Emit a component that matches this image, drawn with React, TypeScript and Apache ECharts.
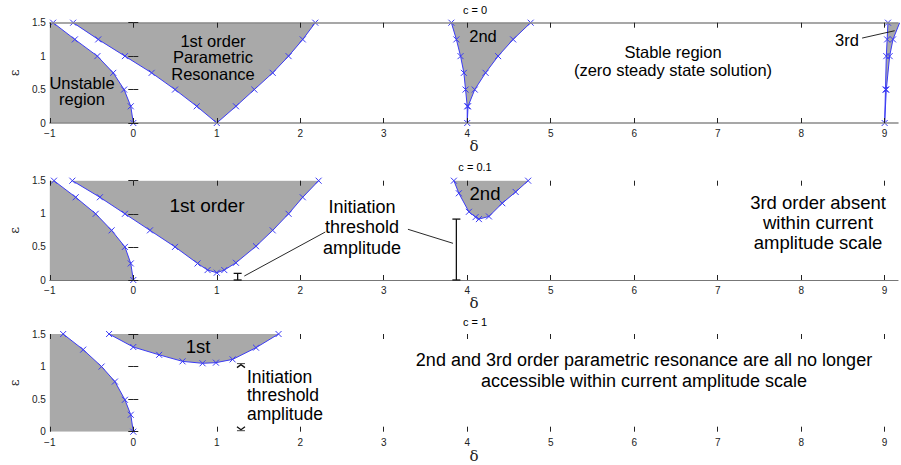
import React, { useEffect, useRef } from "react";
import * as echarts from "echarts";

// ---------- axis ticks ----------
const xTickValues = [-1, 0, 1, 2, 3, 4, 5, 6, 7, 8, 9];
const yTickValues = [0, 0.5, 1, 1.5];
const titles = ["c = 0", "c = 0.1", "c = 1"];

// ---------- c = 0 ----------
const c0Unstable = [[-0.96, 1.5], [-0.7, 1.25], [-0.43, 1.0], [-0.24, 0.75], [-0.11, 0.5], [-0.03, 0.25], [0, 0]];
const c0First = [[-0.72, 1.5], [-0.42, 1.25], [-0.1, 1.0], [0.22, 0.75], [0.5, 0.5], [0.76, 0.25], [1, 0], [1.23, 0.25], [1.45, 0.5], [1.67, 0.75], [1.86, 1.0], [2.03, 1.25], [2.18, 1.5]];
const c0Second = [[3.81, 1.5], [3.87, 1.25], [3.92, 1.0], [3.96, 0.75], [3.98, 0.5], [4.0, 0.25], [4.0, 0], [4.01, 0.25], [4.09, 0.5], [4.22, 0.75], [4.37, 1.0], [4.55, 1.25], [4.76, 1.5]];
const c0Third = [[9.04, 1.5], [9.03, 1.25], [9.02, 1.0], [9.01, 0.5], [9.0, 0], [9.02, 0.5], [9.06, 1.0], [9.1, 1.25], [9.18, 1.5]];
const c0Leader = [[8.73, 1.27], [9.12, 1.38]];

// ---------- c = 0.1 ----------
const c01Unstable = [[-0.95, 1.5], [-0.69, 1.25], [-0.45, 1.0], [-0.26, 0.75], [-0.1, 0.5], [-0.03, 0.25], [0, 0]];
const c01First = [[-0.73, 1.5], [-0.4, 1.25], [-0.1, 1.0], [0.2, 0.75], [0.5, 0.5], [0.77, 0.25], [0.89, 0.15], [1.0, 0.11], [1.09, 0.15], [1.23, 0.26], [1.47, 0.51], [1.67, 0.75], [1.86, 1.0], [2.03, 1.25], [2.22, 1.5]];
const c01Second = [[3.84, 1.5], [3.9, 1.31], [4.02, 1.03], [4.1, 0.95], [4.14, 0.92], [4.26, 0.96], [4.42, 1.16], [4.58, 1.33], [4.73, 1.5]];
const c01Thresholds = [[1.25, 0, 0.1], [3.87, 0, 0.92]];
const c01LeaderA = [[1.33, 0.06], [2.3, 0.725]];
const c01LeaderB = [[3.29, 0.766], [3.83, 0.554]];

// ---------- c = 1 ----------
const c1Unstable = [[-0.84, 1.5], [-0.6, 1.26], [-0.38, 1.0], [-0.22, 0.77], [-0.1, 0.49], [-0.03, 0.26], [0, 0]];
const c1First = [[-0.29, 1.5], [0, 1.3], [0.31, 1.18], [0.59, 1.08], [0.83, 1.05], [0.99, 1.06], [1.19, 1.11], [1.47, 1.29], [1.74, 1.5]];
const c1Threshold = [[1.29, 0.0, 1.03]];

const X_MIN = -1;
const X_MAX = 9.16;
const Y_MAX = 1.5;

const GRAY = "#a9a9a9";
const BLUE = "#3b3bf5";
const FONT = "Liberation Sans, Arial, Helvetica, sans-serif";
const XSYM = "path://M0 0L10 10M10 0L0 10";

function withCorner(curve: number[][]) {
  // the unstable region reaches the left edge of the plot at its top
  return [[X_MIN, Y_MAX], ...curve];
}

function regionSeries(data: number[][], gi: number, origin: "start" | "end", withArea = true) {
  return {
    type: "line",
    xAxisIndex: gi * 2,
    yAxisIndex: gi * 2,
    data,
    symbol: XSYM,
    symbolSize: 6,
    showAllSymbol: true,
    lineStyle: { color: BLUE, width: 1 },
    itemStyle: { color: "none", borderColor: BLUE, borderWidth: 1 },
    areaStyle: withArea ? { color: GRAY, opacity: 1, origin } : undefined,
    z: 2,
    silent: true,
  };
}

function fillOnlySeries(data: number[][], gi: number) {
  return {
    type: "line",
    xAxisIndex: gi * 2,
    yAxisIndex: gi * 2,
    data,
    symbol: "none",
    lineStyle: { width: 0, opacity: 0 },
    areaStyle: { color: GRAY, opacity: 1, origin: "start" },
    z: 1,
    silent: true,
  };
}

function leaderSeries(data: number[][], gi: number) {
  return {
    type: "line",
    xAxisIndex: gi * 2,
    yAxisIndex: gi * 2,
    data,
    symbol: "none",
    lineStyle: { color: "#111", width: 0.9 },
    z: 6,
    silent: true,
  };
}

function errorBarSeries(data: number[][], gi: number, capsOnly: boolean) {
  return {
    type: "custom",
    xAxisIndex: gi * 2,
    yAxisIndex: gi * 2,
    data,
    encode: { x: 0, y: [1, 2] },
    z: 7,
    silent: true,
    renderItem: (_params: any, api: any) => {
      const x = api.value(0);
      const lo = api.coord([x, api.value(1)]);
      const hi = api.coord([x, api.value(2)]);
      const w = 4;
      const st = { stroke: "#111", lineWidth: 1.3, fill: "none" };
      const children: any[] = [];
      if (!capsOnly) {
        children.push({ type: "line", shape: { x1: lo[0], y1: lo[1], x2: hi[0], y2: hi[1] }, style: st });
        children.push({ type: "line", shape: { x1: lo[0] - w, y1: lo[1], x2: lo[0] + w, y2: lo[1] }, style: st });
        children.push({ type: "line", shape: { x1: hi[0] - w, y1: hi[1], x2: hi[0] + w, y2: hi[1] }, style: st });
      } else {
        children.push({ type: "polyline", shape: { points: [[hi[0] - w, hi[1] + 3], [hi[0], hi[1]], [hi[0] + w, hi[1] + 3]] }, style: st });
        children.push({ type: "line", shape: { x1: hi[0] - w, y1: hi[1] - 1, x2: hi[0] + w, y2: hi[1] - 1 }, style: { ...st, lineWidth: 0.8 } });
        children.push({ type: "polyline", shape: { points: [[lo[0] - w, lo[1] - 5], [lo[0], lo[1] - 2], [lo[0] + w, lo[1] - 5]] }, style: st });
        children.push({ type: "line", shape: { x1: lo[0] - w, y1: lo[1] - 1, x2: lo[0] + w, y2: lo[1] - 1 }, style: { ...st, lineWidth: 0.8 } });
      }
      return { type: "group", children };
    },
  };
}

const grids = [
  { left: 47, top: 22.7, width: 851, height: 100.3 },
  { left: 47, top: 180.7, width: 851, height: 99.3 },
  { left: 46.5, top: 334, width: 851.5, height: 97.7 },
];
const bottomLine = [
  { show: true, color: "#8a8a8a", width: 1.5 },
  { show: true, color: "#777", width: 1.2 },
  { show: false, color: "#777", width: 1 },
];
const topLine = [true, false, false];
const xNameGap = [14, 15, 16];
const xLabelMargin = [5, 5, 6];

function buildAxes() {
  const xAxis: any[] = [];
  const yAxis: any[] = [];
  grids.forEach((_, gi) => {
    xAxis.push({
      gridIndex: gi,
      type: "value",
      min: X_MIN,
      max: X_MAX,
      interval: 1,
      position: "bottom",
      z: 5,
      axisLine: { show: bottomLine[gi].show, onZero: false, lineStyle: { color: bottomLine[gi].color, width: bottomLine[gi].width } },
      axisTick: { show: true, inside: true, length: 5, customValues: xTickValues, lineStyle: { color: "#222", width: 1 } },
      axisLabel: {
        show: true,
        customValues: xTickValues,
        margin: xLabelMargin[gi],
        fontSize: 10,
        color: "#222",
        fontFamily: FONT,
        formatter: (v: number) => (Number.isInteger(v) ? String(v).replace("-", "\u2212") : ""),
      },
      splitLine: { show: false },
      name: "\u03b4",
      nameLocation: "middle",
      nameGap: xNameGap[gi],
      nameTextStyle: { fontSize: 15, color: "#222", fontFamily: "DejaVu Serif, serif" },
    });
    xAxis.push({
      gridIndex: gi,
      type: "value",
      min: X_MIN,
      max: X_MAX,
      interval: 1,
      position: "top",
      z: 5,
      axisLine: { show: topLine[gi], onZero: false, lineStyle: { color: "#8a8a8a", width: 1.5 } },
      axisTick: { show: true, inside: true, length: 5, customValues: xTickValues, lineStyle: { color: "#222", width: 1 } },
      axisLabel: { show: false },
      splitLine: { show: false },
    });
    yAxis.push({
      gridIndex: gi,
      type: "value",
      min: 0,
      max: Y_MAX,
      interval: 0.5,
      position: "left",
      z: 5,
      axisLine: { show: false },
      axisTick: { show: true, inside: true, length: 5, customValues: yTickValues, lineStyle: { color: "#222", width: 1 } },
      axisLabel: { show: true, customValues: yTickValues, fontSize: 10, color: "#222", margin: 4, fontFamily: FONT },
      splitLine: { show: false },
      name: "\u03b5",
      nameLocation: "middle",
      nameRotate: 90,
      nameGap: 27,
      nameTextStyle: { fontSize: 13, color: "#222", fontFamily: "DejaVu Serif, serif" },
    });
    yAxis.push({
      gridIndex: gi,
      type: "value",
      min: 0,
      max: Y_MAX,
      interval: 0.5,
      position: "right",
      z: 5,
      axisLine: { show: false },
      axisTick: { show: true, inside: true, length: 5, customValues: yTickValues, lineStyle: { color: "#222", width: 1 } },
      axisLabel: { show: false },
      splitLine: { show: false },
    });
  });
  return { xAxis, yAxis };
}

function txt(text: string, x: number, y: number, fontSize: number, lineHeight: number, align = "center") {
  return {
    type: "text",
    x,
    y,
    z: 20,
    silent: true,
    style: {
      text,
      fill: "#000",
      font: `${fontSize}px ${FONT}`,
      align,
      verticalAlign: "middle",
      lineHeight,
    },
  };
}

export default function App() {
  const ref = useRef<HTMLDivElement>(null);
  useEffect(() => {
    if (!ref.current) return;
    document.body.style.margin = "0";
    const chart = echarts.init(ref.current, null, { renderer: "svg" });
    const { xAxis, yAxis } = buildAxes();
    const option: any = {
      animation: false,
      backgroundColor: "#ffffff",
      grid: grids,
      xAxis,
      yAxis,
      series: [
        // c = 0
        fillOnlySeries(withCorner(c0Unstable), 0),
        regionSeries(c0Unstable, 0, "start", false),
        regionSeries(c0First, 0, "end"),
        regionSeries(c0Second, 0, "end"),
        regionSeries(c0Third, 0, "end"),
        leaderSeries(c0Leader, 0),
        // c = 0.1
        fillOnlySeries(withCorner(c01Unstable), 1),
        regionSeries(c01Unstable, 1, "start", false),
        regionSeries(c01First, 1, "end"),
        regionSeries(c01Second, 1, "end"),
        errorBarSeries(c01Thresholds, 1, false),
        leaderSeries(c01LeaderA, 1),
        leaderSeries(c01LeaderB, 1),
        // c = 1
        fillOnlySeries(withCorner(c1Unstable), 2),
        regionSeries(c1Unstable, 2, "start", false),
        regionSeries(c1First, 2, "end"),
        errorBarSeries(c1Threshold, 2, true),
      ],
      graphic: [
        // titles
        txt(titles[0], 475, 10, 11, 12),
        txt(titles[1], 475, 167, 11, 12),
        txt(titles[2], 475, 322, 11, 12),
        // panel 1
        txt("Unstable\nregion", 82, 91, 16.5, 16.5),
        txt("1st order\nParametric\nResonance", 213, 57, 16.5, 16.5),
        txt("2nd", 483, 36, 16.5, 17),
        txt("Stable region\n(zero steady state solution)", 673, 61, 16.5, 18),
        txt("3rd", 847, 40, 16.5, 17),
        // panel 2
        txt("1st order", 207, 205, 19, 20),
        txt("Initiation\nthreshold\namplitude", 362, 227, 18, 20.5),
        txt("2nd", 485, 193, 18.5, 20),
        txt("3rd order absent\nwithin current\namplitude scale", 818, 222, 18.5, 20),
        // panel 3
        txt("1st", 198, 346, 18.5, 20),
        txt("Initiation\nthreshold\namplitude", 247, 395, 17.5, 18.5, "left"),
        txt("2nd and 3rd order parametric resonance are all no longer\naccessible within current amplitude scale", 644, 370, 18, 21),
      ],
    };
    chart.setOption(option);
    return () => chart.dispose();
  }, []);
  return <div ref={ref} style={{ position: "fixed", left: 0, top: 0, width: 901, height: 465 }} />;
}
